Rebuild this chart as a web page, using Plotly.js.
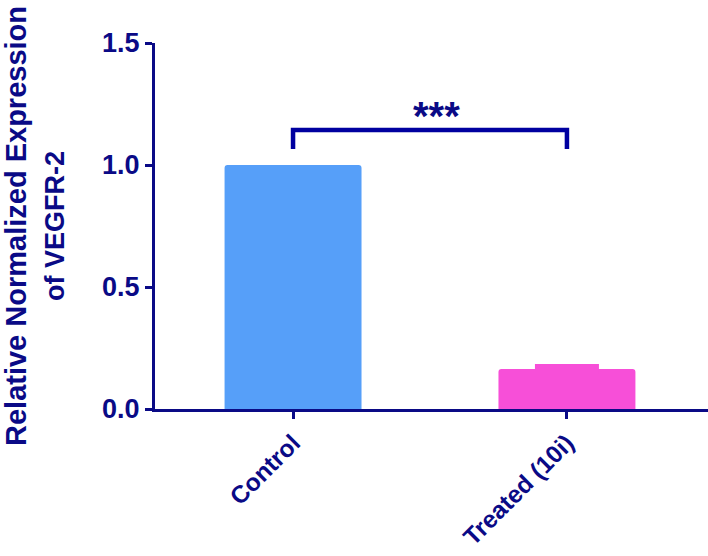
<!DOCTYPE html>
<html><head><meta charset="utf-8">
<script src="https://cdn.plot.ly/plotly-3.0.1.min.js"></script>
<style>html,body{margin:0;padding:0;background:#fff;}#chart{width:708px;height:556px;}</style>
</head><body><div id="chart"></div>
<script>
const categories = ['Control', 'Treated (10i)'];
const values = [1.0, 0.164];
const errors = [0, 0.01];
const barColors = ['#569ff9', '#f74fd8'];
const bracketY = [1.066, 1.143, 1.143, 1.066];
const bracketX = [categories[0], categories[0], categories[1], categories[1]];
const sigLabel = '***';
const yTicks = [0, 0.5, 1.0, 1.5];
const navy = '#0a0a86';

const bars = categories.map((c, i) => ({
  type: 'bar', x: [c], y: [values[i]], width: 0.5,
  marker: {color: barColors[i], cornerradius: 3, line: {width: 0}},
  error_y: {type: 'data', array: [errors[i]], visible: errors[i] > 0, color: barColors[i], thickness: 5, width: 32},
  hoverinfo: 'skip', showlegend: false
}));
const bracket = {
  type: 'scatter', mode: 'lines', x: bracketX, y: bracketY,
  line: {color: '#0000a0', width: 4.5}, hoverinfo: 'skip', showlegend: false
};
const layout = {
  width: 708, height: 556, barmode: 'overlay',
  margin: {l: 155, r: 0, t: 43, b: 147},
  paper_bgcolor: '#fff', plot_bgcolor: '#fff',
  font: {family: 'Liberation Sans, Arial, sans-serif', color: navy},
  xaxis: {
    type: 'category', range: [-0.504, 1.515],
    showline: true, linecolor: navy, linewidth: 3,
    ticks: 'outside', ticklen: 7, tickwidth: 3, tickcolor: navy,
    tickangle: -45, showgrid: false, zeroline: false,
    tickfont: {size: 24.5, color: navy, weight: 'bold'}
  },
  yaxis: {
    range: [0, 1.5], tickvals: yTicks, tickformat: '.1f',
    showline: true, linecolor: navy, linewidth: 3,
    ticks: 'outside', ticklen: 7, tickwidth: 3, tickcolor: navy,
    showgrid: false, zeroline: false,
    tickfont: {size: 27, color: navy, weight: 'bold'},
    title: {text: 'Relative Normalized Expression<br><span style="font-size:27px">of VEGFR-2</span>', standoff: 34,
            font: {size: 29, color: navy, weight: 'bold'}}
  },
  annotations: [{
    x: 0.525, y: 1.20, xref: 'x', yref: 'y', text: sigLabel, showarrow: false,
    yanchor: 'middle', font: {size: 40, color: navy, weight: 'bold'}
  }]
};
Plotly.newPlot('chart', [...bars, bracket], layout, {displayModeBar: false, staticPlot: true});
</script>
</body></html>
